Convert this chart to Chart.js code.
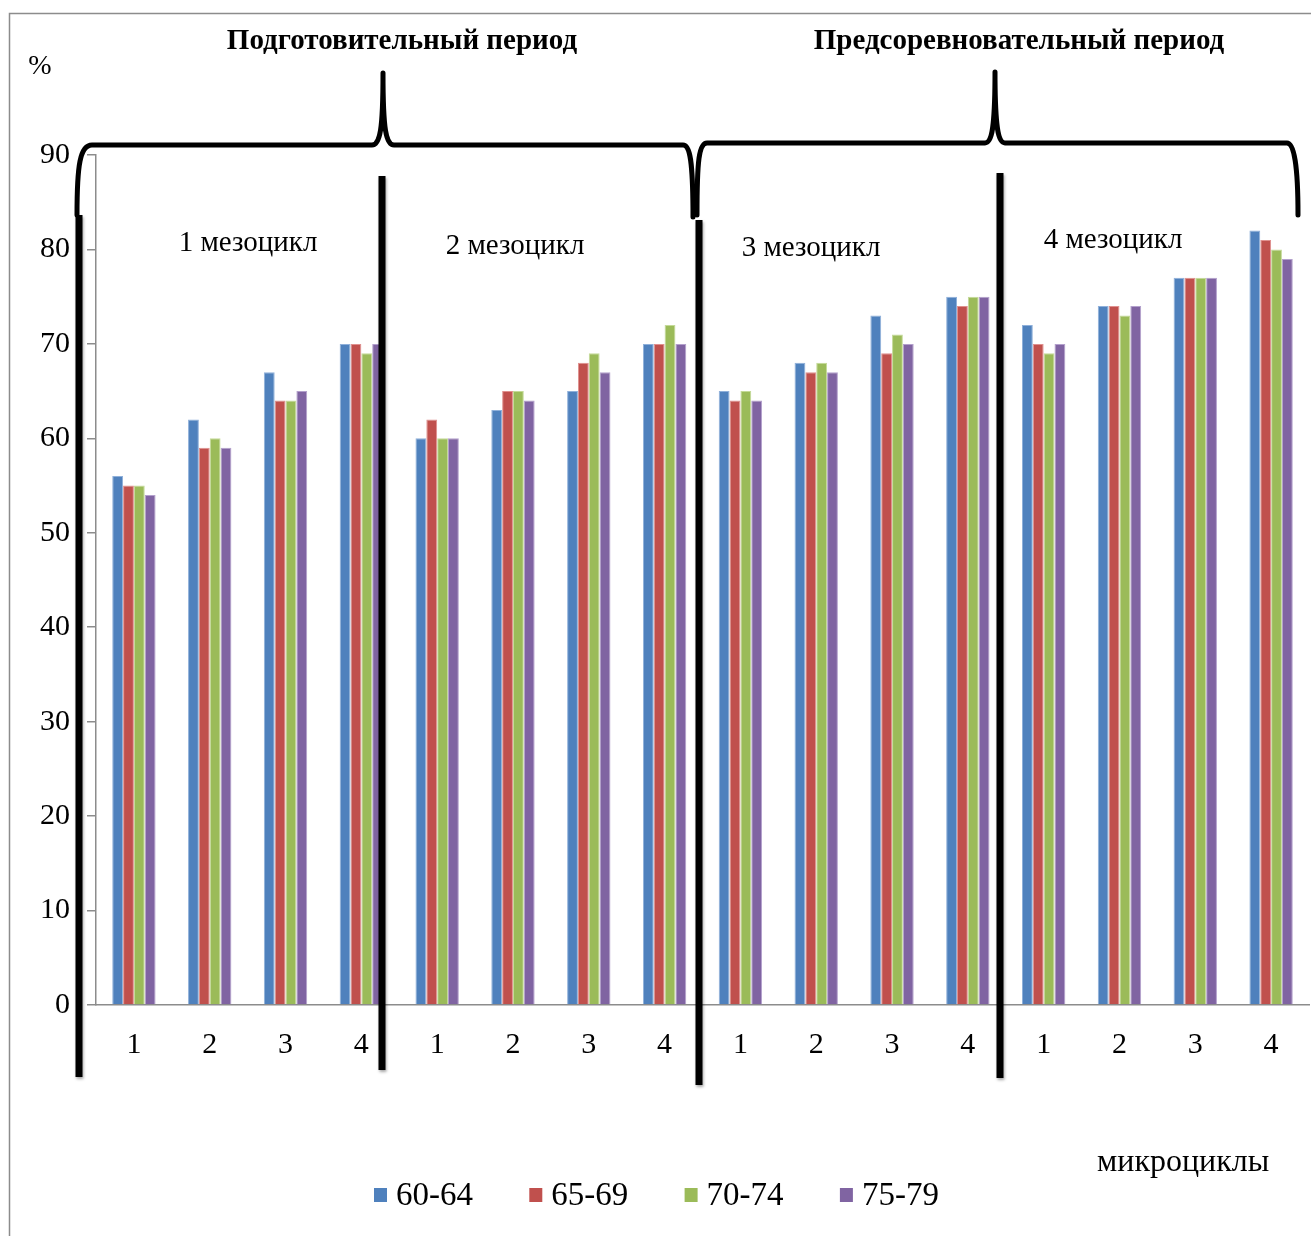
<!DOCTYPE html>
<html>
<head>
<meta charset="utf-8">
<script src="https://cdn.jsdelivr.net/npm/chart.js@4.4.1/dist/chart.umd.min.js"></script>
<style>
  html, body { margin: 0; padding: 0; background: #fff; }
  canvas { display: block; }
</style>
</head>
<body>
<canvas id="chart" width="1311" height="1236"></canvas>
<script>
// microcycles 1-4 inside each of the 4 mesocycles
var microcycles = ['1','2','3','4','1','2','3','4','1','2','3','4','1','2','3','4'];
var ageGroups = ['60-64', '65-69', '70-74', '75-79'];
var age6064 = [56, 62, 67, 70, 60, 63, 65, 70, 65, 68, 73, 75, 72, 74, 77, 82];
var age6569 = [55, 59, 64, 70, 62, 65, 68, 70, 64, 67, 69, 74, 70, 74, 77, 81];
var age7074 = [55, 60, 64, 69, 60, 65, 69, 72, 65, 68, 71, 75, 69, 73, 77, 80];
var age7579 = [54, 59, 65, 70, 60, 64, 67, 70, 64, 67, 70, 75, 70, 74, 77, 79];
var mesocycles = ['1 мезоцикл', '2 мезоцикл', '3 мезоцикл', '4 мезоцикл'];
var periods = ['Подготовительный период', 'Предсоревновательный период'];

var colors = ['#4F81BD', '#C0504D', '#9BBB59', '#8064A2'];
var edges = ['#8FB0DA', '#E0908E', '#C4DA98', '#B3A0CC'];
var serif = "'Liberation Serif', 'Times New Roman', serif";

function makeSet(i, values) {
	return {
		label: ageGroups[i],
		data: values,
		backgroundColor: colors[i],
		borderColor: edges[i],
		borderWidth: 1,
		categoryPercentage: 0.572,
		barPercentage: 1.0
	};
}

var decor = {
	id: 'decor',
	beforeDraw: function(chart) {
		var ctx = chart.ctx;
		ctx.save();
		ctx.strokeStyle = '#8c8c8c';
		ctx.lineWidth = 1.5;
		ctx.beginPath();
		ctx.moveTo(9.5, 1236);
		ctx.lineTo(9.5, 13.5);
		ctx.lineTo(1311, 13.5);
		ctx.stroke();
		ctx.restore();
	},
	afterDraw: function(chart) {
		var ctx = chart.ctx;
		ctx.save();
		ctx.fillStyle = '#000';

		// period titles
		ctx.font = 'bold 29px ' + serif;
		ctx.textAlign = 'center';
		ctx.textBaseline = 'middle';
		ctx.fillText(periods[0], 402, 42);
		ctx.fillText(periods[1], 1019, 42);

		ctx.font = '28px ' + serif;
		ctx.fillText('%', 40, 67);

		// mesocycle labels
		ctx.font = '29px ' + serif;
		var mx = [248, 515, 811, 1113];
		var my = [243, 246, 248, 240];
		for (var i = 0; i < mesocycles.length; i++) {
			ctx.fillText(mesocycles[i], mx[i], my[i]);
		}

		// braces
		ctx.lineWidth = 5;
		ctx.lineCap = 'round';
		ctx.lineJoin = 'round';
		ctx.strokeStyle = '#000';
		ctx.beginPath();
		ctx.moveTo(77, 215);
		ctx.bezierCurveTo(77, 165, 80, 145, 92, 145);
		ctx.lineTo(372, 145);
		ctx.bezierCurveTo(380, 145, 383, 130, 383, 73);
		ctx.bezierCurveTo(383, 130, 386, 145, 394, 145);
		ctx.lineTo(683, 145);
		ctx.bezierCurveTo(690, 145, 693, 160, 693, 217);
		ctx.stroke();

		ctx.beginPath();
		ctx.moveTo(697, 215);
		ctx.bezierCurveTo(697, 160, 699, 143, 707, 143);
		ctx.lineTo(985, 143);
		ctx.bezierCurveTo(992, 143, 995, 128, 995, 72);
		ctx.bezierCurveTo(995, 128, 998, 143, 1005, 143);
		ctx.lineTo(1287, 143);
		ctx.bezierCurveTo(1294, 143, 1298, 165, 1298, 215);
		ctx.stroke();

		// thick separators
		ctx.shadowColor = 'rgba(0,0,0,0.35)';
		ctx.shadowBlur = 3;
		ctx.shadowOffsetX = 1;
		ctx.shadowOffsetY = 2;
		var sep = [[79, 215, 1077], [382, 176, 1070], [699, 220, 1085], [1000, 173, 1078]];
		ctx.fillStyle = '#000';
		for (var j = 0; j < sep.length; j++) {
			ctx.fillRect(sep[j][0] - 3.5, sep[j][1], 7, sep[j][2] - sep[j][1]);
		}
		ctx.shadowColor = 'transparent';

		// legend
		ctx.textAlign = 'left';
		ctx.font = '33px ' + serif;
		var ds = chart.data.datasets;
		for (var k = 0; k < ds.length; k++) {
			var lx = 374 + k * 155.3;
			ctx.fillStyle = ds[k].backgroundColor;
			ctx.fillRect(lx, 1188, 13, 14);
			ctx.fillStyle = '#000';
			ctx.fillText(ds[k].label, lx + 22, 1196);
		}

		ctx.font = '32px ' + serif;
		ctx.fillText('микроциклы', 1097, 1163);
		ctx.restore();
	}
};

new Chart(document.getElementById('chart'), {
	type: 'bar',
	data: {
		labels: microcycles,
		datasets: [
			makeSet(0, age6064),
			makeSet(1, age6569),
			makeSet(2, age7074),
			makeSet(3, age7579)
		]
	},
	options: {
		responsive: false,
		devicePixelRatio: 1,
		animation: false,
		layout: { padding: { top: 155, left: 0, right: 2, bottom: 0 } },
		plugins: {
			legend: { display: false },
			tooltip: { enabled: false },
			title: { display: false }
		},
		scales: {
			x: {
				grid: { display: false },
				border: { display: true, color: '#8c8c8c', width: 1.5 },
				ticks: { color: '#000', padding: 14, font: { family: serif, size: 30 } },
				afterFit: function(s) { s.height = 231; }
			},
			y: {
				min: 0,
				max: 90,
				grid: { drawOnChartArea: false, drawTicks: true, tickLength: 9, color: '#8c8c8c', lineWidth: 1.5 },
				border: { display: true, color: '#8c8c8c', width: 1.5 },
				ticks: { stepSize: 10, color: '#000', padding: 17, font: { family: serif, size: 30 } },
				afterFit: function(s) { s.width = 96; }
			}
		}
	},
	plugins: [decor]
});
</script>
</body>
</html>
